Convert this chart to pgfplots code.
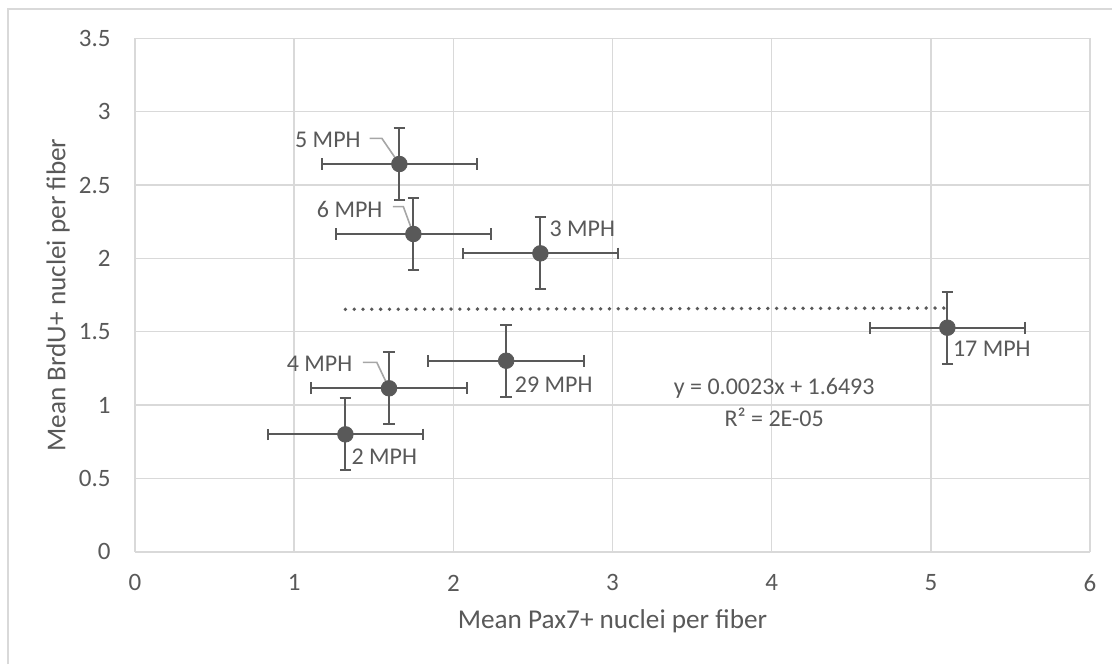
\documentclass[border=0pt]{standalone}
\usepackage{pgfplots}
\pgfplotsset{compat=1.18}
\usepackage{fontspec}
\setmainfont{Carlito}
\definecolor{txt}{HTML}{595959}
\definecolor{pt}{HTML}{595959}
\definecolor{grd}{HTML}{D9D9D9}
\definecolor{lead}{HTML}{A6A6A6}
\begin{document}
\begin{tikzpicture}
\useasboundingbox (0,0) rectangle (556pt,332pt);
\draw[grd, line width=0.8pt] (4pt,0pt) -- (4pt,327.5pt) -- (556pt,327.5pt);
\begin{axis}[
  at={(67.5pt,56.15pt)}, anchor=south west,
  scale only axis, width=477.5pt, height=256.7pt,
  xmin=0, xmax=6, ymin=0, ymax=3.5,
  xtick={0,1,...,6}, ytick={0,0.5,...,3.5},
  /pgf/number format/assume math mode=true,
  yticklabel style={/pgf/number format/fixed},
  grid=major, major grid style={grd, line width=0.8pt},
  axis line style={draw=none},
  major tick length=0pt,
  tick label style={font=\fontsize{12.5}{14}\selectfont, text=txt},
  x tick label style={anchor=center, yshift=-15.6pt},
  y tick label style={anchor=east, inner sep=0pt, xshift=-12pt},
  xlabel={Mean Pax7+ nuclei per fiber},
  ylabel={Mean BrdU+ nuclei per fiber},
  label style={font=\fontsize{13.6}{15}\selectfont, text=txt},
  xlabel style={at={(axis description cs:0.5,-0.136)}, anchor=center},
  ylabel style={at={(axis description cs:-0.0806,0.5)}, anchor=center, rotate=0},
  clip=false,
]
% trendline (linear fit end points)
\addplot[pt, line width=1.9pt, line cap=round, dash pattern=on 0pt off 4.4pt] coordinates {(1.322,1.6523) (5.104,1.6610)};
% leader lines
\draw[lead, line width=0.8pt] (axis cs:1.474,2.818) -- (axis cs:1.551,2.818) -- (axis cs:1.661,2.643);
\draw[lead, line width=0.8pt] (axis cs:1.620,2.352) -- (axis cs:1.686,2.352) -- (axis cs:1.749,2.166);
\draw[lead, line width=0.8pt] (axis cs:1.431,1.291) -- (axis cs:1.519,1.291) -- (axis cs:1.596,1.114);
\addplot[only marks, mark=*, mark size=3.9pt, color=pt,
  mark options={fill=pt, draw=pt},
  error bars/.cd, x dir=both, x explicit, y dir=both, y explicit,
  error bar style={line width=1pt, pt},
  error mark options={rotate=90, mark size=2.9pt, line width=1pt, pt}]
  table[x=x, y=y, x error=ex, y error=ey] {
  x     y     ex    ey
  1.661 2.643 0.489 0.246
  1.749 2.166 0.489 0.246
  2.547 2.034 0.489 0.246
  5.104 1.527 0.489 0.246
  2.332 1.302 0.489 0.246
  1.596 1.114 0.489 0.246
  1.322 0.800 0.489 0.246
};
\begin{scope}[every node/.style={font=\fontsize{12}{14}\selectfont, text=txt, inner sep=0pt}]
\node[anchor=east] at (axis cs:1.420,2.806) {5 MPH};
\node[anchor=east] at (axis cs:1.557,2.334) {6 MPH};
\node[anchor=east] at (axis cs:1.368,1.280) {4 MPH};
\node[anchor=west] at (axis cs:2.602,2.204) {3 MPH};
\node[anchor=west] at (axis cs:2.384,1.141) {29 MPH};
\node[anchor=west] at (axis cs:5.137,1.382) {17 MPH};
\node[anchor=west] at (axis cs:1.358,0.648) {2 MPH};
\node at (axis cs:4.016,1.114) {y = 0.0023x + 1.6493};
\node at (axis cs:4.016,0.916) {R² = 2E-05};
\end{scope}
\end{axis}
\end{tikzpicture}
\end{document}
